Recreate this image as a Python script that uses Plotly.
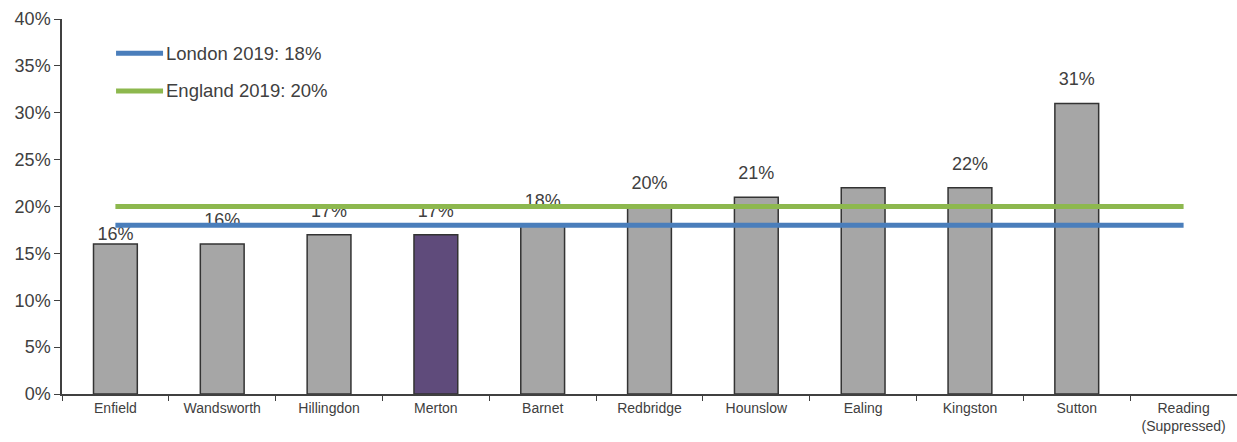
import plotly.graph_objects as go

categories = ["Enfield", "Wandsworth", "Hillingdon", "Merton", "Barnet", "Redbridge",
              "Hounslow", "Ealing", "Kingston", "Sutton", "Reading<br>(Suppressed)"]
values = [16, 16, 17, 17, 18, 20, 21, 22, 22, 31, None]
labels = ["16%", "16%", "17%", "17%", "18%", "20%", "21%", "", "22%", "31%", ""]
highlight = "Merton"
london_2019 = 18
england_2019 = 20
london_label = "London 2019: 18%"
england_label = "England 2019: 20%"

# styling: spacing between bar top and its value label (invisible marker size, px)
LABEL_PAD = 20
LABEL_PAD_OVERRIDE = {"Enfield": 0}

GREY = "#A6A6A6"
PURPLE = "#5F4B7B"
BLUE = "#4A7EBB"
GREEN = "#8DB84E"
TEXT = "#404040"
FONT = "Liberation Sans, Arial, sans-serif"

colors = [PURPLE if c == highlight else GREY for c in categories]
pads = [LABEL_PAD_OVERRIDE.get(c, LABEL_PAD) for c in categories]

fig = go.Figure()
fig.add_trace(go.Bar(
    x=categories, y=values, marker=dict(color=colors, line=dict(color="#333333", width=1.5)),
    width=0.41, showlegend=False,
))
# value labels (drawn beneath the benchmark lines)
fig.add_trace(go.Scatter(
    x=categories, y=values, text=labels, mode="markers+text", textposition="top center",
    marker=dict(size=pads, opacity=0, color="white"), cliponaxis=False,
    textfont=dict(size=18, color=TEXT, family=FONT), showlegend=False, hoverinfo="skip",
))
fig.add_trace(go.Scatter(
    x=categories, y=[england_2019] * len(categories), mode="lines",
    line=dict(color=GREEN, width=5), showlegend=False, hoverinfo="skip",
))
fig.add_trace(go.Scatter(
    x=categories, y=[london_2019] * len(categories), mode="lines",
    line=dict(color=BLUE, width=5), showlegend=False, hoverinfo="skip",
))

# manual legend
for yy, col, txt in [(0.909, BLUE, london_label), (0.808, GREEN, england_label)]:
    fig.add_shape(type="line", xref="paper", yref="paper", x0=0.046, x1=0.086, y0=yy, y1=yy,
                  line=dict(color=col, width=5))
    fig.add_annotation(xref="paper", yref="paper", x=0.087, y=yy, text=txt, showarrow=False,
                       xanchor="left", yanchor="middle",
                       font=dict(size=18.5, color=TEXT, family=FONT))

fig.update_layout(
    width=1237, height=442,
    margin=dict(l=62, r=0, t=19, b=48),
    plot_bgcolor="white", paper_bgcolor="white",
    font=dict(family=FONT, color=TEXT),
)
fig.update_yaxes(range=[0, 40], dtick=5, ticksuffix="%", showgrid=False, zeroline=False,
                 showline=True, linecolor="#404040", linewidth=1.5, ticks="outside",
                 ticklen=6, tickcolor="#404040", tickfont=dict(size=18, color=TEXT, family=FONT))
fig.update_xaxes(range=[-0.5, len(categories) - 0.5], showgrid=False, showline=True,
                 linecolor="#404040", linewidth=1.5,
                 ticks="outside", tickson="boundaries", ticklen=5, tickcolor="#404040",
                 tickfont=dict(size=14, color=TEXT, family=FONT), tickangle=0)

fig.write_html("out.html")
